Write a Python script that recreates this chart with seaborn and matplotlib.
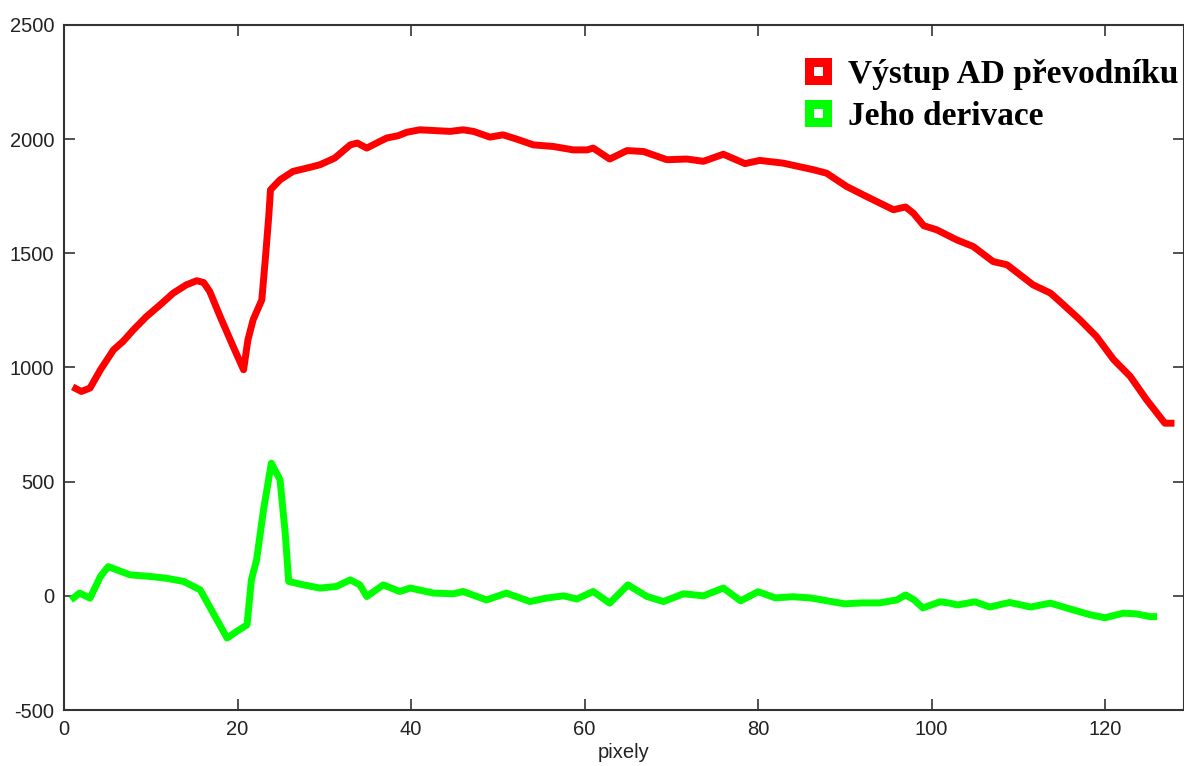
import numpy as np
import pandas as pd
import matplotlib
matplotlib.use("Agg")
import matplotlib.pyplot as plt
from matplotlib.lines import Line2D
import seaborn as sns

# Výstup AD převodníku
ad_x = [1, 2, 3, 4.2, 5.7, 6.8, 8, 9.5, 11.1, 12.6, 14.1, 15.3, 16.1, 16.8, 18, 19.5,
        20.7, 21.2, 21.8, 22.8, 23.2, 23.6, 23.8, 24.9, 26.4, 27.2, 28.7, 29.5, 31.2,
        33, 33.8, 34.9, 36.4, 37.2, 38.5, 39.5, 41, 44.5, 46, 47.2, 49.1, 50.6, 52.2,
        54.1, 56.4, 58.7, 60.3, 61, 62.9, 64.9, 66.8, 69.5, 71.8, 73.7, 76, 78.5,
        80.2, 82.9, 86.4, 87.9, 90.2, 92.5, 95.6, 97, 97.9, 99.1, 100.6, 102.9,
        104.8, 107.1, 108.7, 111.7, 113.7, 114.8, 117.1, 119, 121, 122.9, 124.8,
        126.3, 126.9, 128]
ad_y = [915, 895, 910, 990, 1077, 1114, 1165, 1223, 1275, 1326, 1362, 1380, 1372,
        1333, 1223, 1092, 990, 1121, 1209, 1296, 1472, 1661, 1778, 1822, 1859, 1866,
        1880, 1888, 1917, 1975, 1983, 1961, 1990, 2005, 2015, 2030, 2041, 2034, 2041,
        2034, 2009, 2019, 2000, 1975, 1968, 1953, 1953, 1961, 1913, 1950, 1946, 1910,
        1913, 1903, 1934, 1893, 1907, 1895, 1866, 1851, 1793, 1749, 1691, 1703, 1676,
        1621, 1603, 1559, 1530, 1464, 1450, 1362, 1326, 1289, 1209, 1136, 1034, 961,
        858, 785, 756, 756]

# Jeho derivace
der_x = [0.8, 1.8, 3, 4.2, 5.1, 7.6, 9.9, 11.8, 13.8, 15.7, 17.2, 18.8, 19.9, 21.1,
         21.6, 22.2, 23, 23.9, 24.9, 25.5, 25.9, 27.6, 29.5, 31.4, 33, 34.1, 34.9,
         36.8, 38.7, 39.9, 42.6, 44.9, 46, 48.7, 51, 53.7, 55.6, 57.6, 59.1, 61,
         62.9, 65, 67.2, 69.1, 71.4, 73.7, 76, 78, 80, 82, 84, 86, 88, 90, 92, 94,
         96, 97, 98, 99, 101, 102.1, 103, 105, 106.7, 109, 111.4, 113.7, 116, 118.3,
         120, 122.1, 123.6, 125.2, 126]
der_y = [-18, 12, -10, 85, 128, 92, 85, 77, 63, 26, -76, -185, -156, -127, 70, 158,
         377, 581, 508, 275, 63, 48, 34, 41, 70, 48, -3, 48, 19, 34, 12, 9, 19, -18,
         12, -25, -10, 0, -14, 19, -32, 48, -3, -25, 9, 0, 34, -22, 18, -9, -4, -9,
         -22, -35, -31, -31, -18, 4, -18, -53, -26, -32, -40, -26, -49, -29, -49,
         -32, -58, -83, -96, -76, -79, -91, -91]

labels = ["Výstup AD převodníku", "Jeho derivace"]
colors = ["#ff0000", "#00ff00"]
x_ticks = [0, 20, 40, 60, 80, 100, 120]
y_ticks = [-500, 0, 500, 1000, 1500, 2000, 2500]

sns.set_theme(style="white")
plt.rcParams["font.family"] = ["Liberation Sans", "DejaVu Sans"]
plt.rcParams["axes.unicode_minus"] = False

fig = plt.figure(figsize=(11.84, 7.66), dpi=100)
ax = fig.add_axes([64 / 1184, 1 - 710 / 766, 1 - 64 / 1184, (710 - 25) / 766])

sns.lineplot(x=ad_x, y=ad_y, ax=ax, color=colors[0], linewidth=5, sort=False,
             solid_capstyle="butt")
sns.lineplot(x=der_x, y=der_y, ax=ax, color=colors[1], linewidth=5, sort=False,
             solid_capstyle="butt")

ax.set_xlim(0, 129.1)
ax.set_ylim(-500, 2500)
ax.set_xticks(x_ticks)
ax.set_yticks(y_ticks)
ax.tick_params(direction="in", length=8, width=1.2, colors="#333333",
               labelsize=14.5, labelcolor="#222222", top=True, right=True,
               bottom=True, left=True, pad=7)
for s in ax.spines.values():
    s.set_color("#333333")
    s.set_linewidth(1.5)
ax.set_xlabel("pixely", fontsize=14.5, color="#222222", labelpad=3)
ax.set_ylabel("")

handles = [Line2D([], [], linestyle="none", marker="s", markersize=12.5,
                  markerfacecolor="white", markeredgecolor=c, markeredgewidth=6.5)
           for c in colors]
leg = ax.legend(handles, labels, loc="upper left",
                bbox_to_anchor=(805 / 1184, 1 - 59 / 766),
                bbox_transform=fig.transFigure, frameon=False,
                handlelength=0.8, handletextpad=0.5, labelspacing=0.32,
                borderpad=0, borderaxespad=0,
                prop={"family": "Liberation Serif", "weight": "bold", "size": 24})
for t in leg.get_texts():
    t.set_color("black")

fig.savefig("out.png", dpi=100)
